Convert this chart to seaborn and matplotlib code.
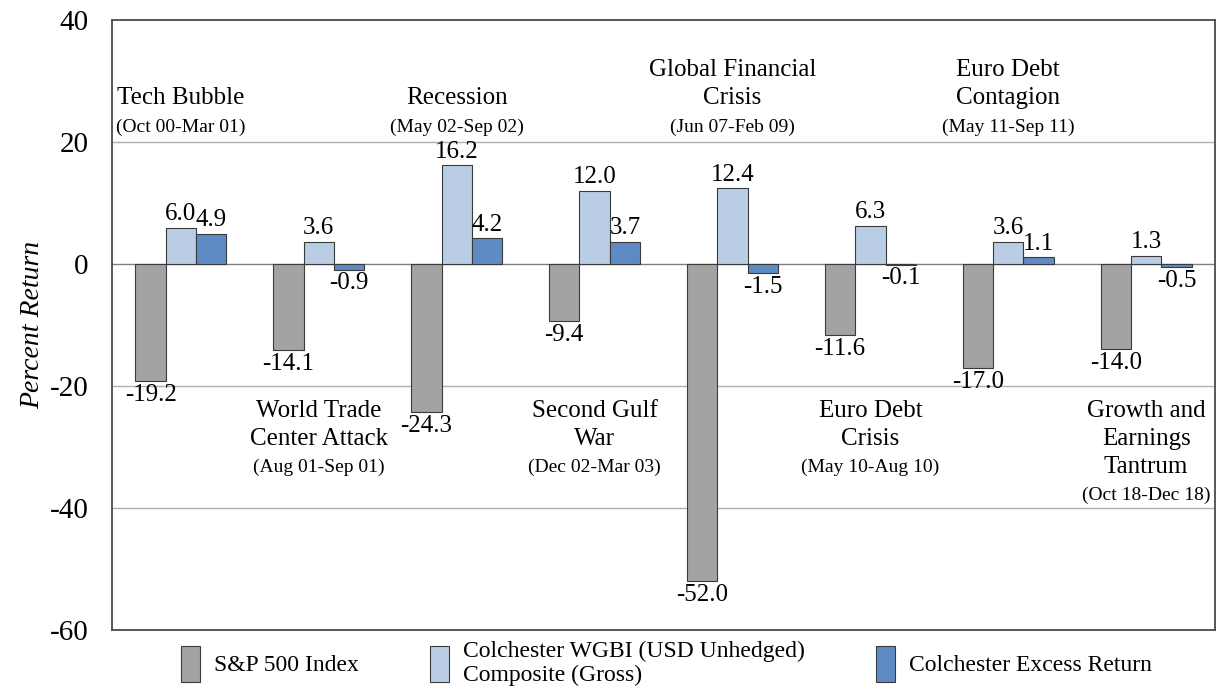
import pandas as pd
import numpy as np
import matplotlib
matplotlib.use("Agg")
import matplotlib.pyplot as plt
import seaborn as sns

# ---- data ----
events = ["Tech Bubble", "World Trade\nCenter Attack", "Recession", "Second Gulf\nWar",
          "Global Financial\nCrisis", "Euro Debt\nCrisis", "Euro Debt\nContagion",
          "Growth and\nEarnings\nTantrum"]
periods = ["(Oct 00-Mar 01)", "(Aug 01-Sep 01)", "(May 02-Sep 02)", "(Dec 02-Mar 03)",
           "(Jun 07-Feb 09)", "(May 10-Aug 10)", "(May 11-Sep 11)", "(Oct 18-Dec 18)"]
series = ["S&P 500 Index", "Colchester WGBI (USD Unhedged)\nComposite (Gross)",
          "Colchester Excess Return"]
sp500 = [-19.2, -14.1, -24.3, -9.4, -52.0, -11.6, -17.0, -14.0]
wgbi = [6.0, 3.6, 16.2, 12.0, 12.4, 6.3, 3.6, 1.3]
excess = [4.9, -0.9, 4.2, 3.7, -1.5, -0.1, 1.1, -0.5]
colors = ["#a3a3a3", "#b9cde5", "#5f8bc4"]

df = pd.DataFrame({
    "event": events * 3,
    "series": [series[0]] * 8 + [series[1]] * 8 + [series[2]] * 8,
    "value": sp500 + wgbi + excess,
})

sns.set_style("white")
plt.rcParams['font.family'] = ['Liberation Serif', 'DejaVu Serif']
plt.rcParams['text.color'] = 'black'
plt.rcParams['axes.labelcolor'] = 'black'
plt.rcParams['ytick.color'] = 'black'

fig = plt.figure(figsize=(12.23, 6.95), dpi=100)
ax = fig.add_axes([0.0916, 0.0935, 0.9019, 0.8775])

sns.barplot(data=df, x="event", y="value", hue="series", palette=colors,
            saturation=1, width=0.66, edgecolor="#3a3a3a", linewidth=0.8, ax=ax)

# value labels
for cont in ax.containers:
    labels = [f"{b.get_height():.1f}" for b in cont]
    ax.bar_label(cont, labels=labels, padding=2, fontsize=18)

# event labels: above for even groups, below for odd groups
step = 4.6
for i, (name, per) in enumerate(zip(events, periods)):
    lines = name.split("\n")
    if i % 2 == 0:
        ax.text(i, 22.4, per, ha="center", va="center", fontsize=14)
        for k, ln in enumerate(reversed(lines)):
            ax.text(i, 27.3 + step * k, ln, ha="center", va="center", fontsize=18)
    else:
        for k, ln in enumerate(lines):
            ax.text(i, -24.1 - step * k, ln, ha="center", va="center", fontsize=18)
        ax.text(i, -24.1 - step * len(lines), per, ha="center", va="center", fontsize=14)

ax.set_ylim(-60, 40)
ax.set_xlim(-0.5, 7.5)
ax.set_yticks([-60, -40, -20, 0, 20, 40])
ax.set_yticklabels(["-60", "-40", "-20", "0", "20", "40"], fontsize=21)
ax.set_xticks([])
ax.set_xlabel("")
ax.set_ylabel("Percent Return", fontsize=20, style="italic", labelpad=3)
ax.tick_params(axis="y", length=7, width=0.8, color="#555555", pad=10)

for y in [-40, -20, 20]:
    ax.axhline(y, color="#b0b0b0", linewidth=1.0, zorder=0)
ax.axhline(0, color="#808080", linewidth=1.0, zorder=0)

for s in ax.spines.values():
    s.set_visible(True)
    s.set_color("#4a4a4a")
    s.set_linewidth(1.3)

handles, labs = ax.get_legend_handles_labels()
ax.legend_.remove()
fig.legend(handles, labs, loc="lower center", bbox_to_anchor=(0.545, -0.018), ncol=3,
           frameon=False, fontsize=17, handlelength=0.8, handleheight=2.0,
           columnspacing=3.0, handletextpad=0.6)

plt.savefig("out.png", dpi=100)
